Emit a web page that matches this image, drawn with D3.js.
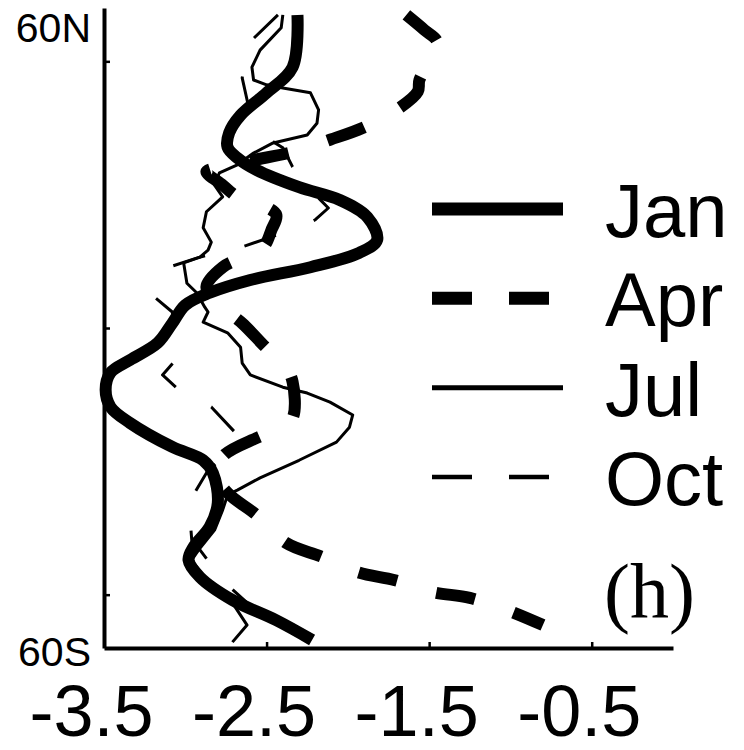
<!DOCTYPE html>
<html>
<head>
<meta charset="utf-8">
<script src="https://cdn.jsdelivr.net/npm/d3@7"></script>
<style>
  html, body { margin: 0; padding: 0; background: #fff; }
  svg { display: block; }
</style>
</head>
<body>
<svg id="chart" width="744" height="750"></svg>
<script>
// Zonal profiles: [value, latitude] pairs, latitude in degrees (N positive)
const jan = [
  [-2.31, 58.7], [-2.34, 48.9], [-2.50, 44.1], [-2.66, 39.9], [-2.73, 36.6],
  [-2.74, 33.9], [-2.68, 31.9], [-2.56, 29.6], [-2.30, 26.4], [-2.05, 24.0],
  [-1.88, 20.8], [-1.82, 16.5], [-1.93, 14.1], [-2.23, 11.4], [-2.60, 9.0],
  [-2.85, 6.6], [-3.00, 4.3], [-3.08, 0.9], [-3.17, -2.8], [-3.34, -6.0],
  [-3.46, -8.4], [-3.49, -11.6], [-3.46, -14.8], [-3.34, -17.8], [-3.08, -22.3],
  [-2.89, -24.8], [-2.83, -27.2], [-2.80, -32.8], [-2.85, -37.3], [-2.95, -41.1],
  [-2.98, -43.5], [-2.91, -46.7], [-2.71, -51.0], [-2.44, -54.8], [-2.22, -58.5]
];
const apr = [
  [-1.64, 58.7], [-1.53, 55.9], [-1.45, 53.6], [-1.50, 49.9], [-1.56, 46.5],
  [-1.57, 44.3], [-1.70, 40.9], [-1.91, 37.5], [-2.11, 35.3], [-2.34, 33.0],
  [-2.58, 31.5], [-2.82, 30.0], [-2.87, 29.3], [-2.77, 26.8], [-2.68, 24.6],
  [-2.53, 23.1], [-2.44, 21.2], [-2.47, 18.4], [-2.52, 15.2], [-2.66, 13.1],
  [-2.77, 11.4], [-2.87, 7.7], [-2.79, 4.3], [-2.65, 0.9], [-2.50, -3.8],
  [-2.39, -6.9], [-2.34, -10.1], [-2.34, -16.9], [-2.42, -18.8], [-2.56, -20.6],
  [-2.76, -23.8], [-2.82, -27.0], [-2.74, -30.9], [-2.56, -35.1], [-2.38, -40.3],
  [-2.16, -42.9], [-1.94, -45.8], [-1.71, -47.3], [-1.48, -49.5], [-1.25, -50.6],
  [-1.02, -52.9], [-0.80, -55.7]
];
const jul = [
  [-2.40, 58.7], [-2.41, 56.3], [-2.54, 52.1], [-2.59, 48.9], [-2.58, 46.5],
  [-2.50, 45.6], [-2.40, 45.0], [-2.23, 44.1], [-2.18, 40.9], [-2.19, 38.4],
  [-2.25, 36.2], [-2.46, 34.7], [-2.58, 32.8], [-2.68, 30.6], [-2.79, 29.1],
  [-2.82, 26.8], [-2.77, 24.6], [-2.87, 21.8], [-2.89, 18.8], [-2.84, 16.1],
  [-2.86, 14.6], [-2.91, 13.3], [-3.01, 12.2], [-2.99, 8.4], [-2.93, 6.6],
  [-2.88, 3.9], [-2.86, 3.0], [-2.89, 1.1], [-2.74, -0.9], [-2.66, -3.6],
  [-2.65, -6.6], [-2.60, -8.8], [-2.40, -11.1], [-2.25, -12.2], [-2.11, -13.9],
  [-1.97, -16.3], [-1.99, -18.6], [-2.07, -21.4], [-2.30, -24.8], [-2.54, -28.1],
  [-2.68, -30.4], [-2.74, -31.3], [-2.77, -34.1], [-2.82, -37.9], [-2.91, -41.3],
  [-2.96, -43.5], [-2.88, -46.9], [-2.73, -50.6], [-2.62, -55.7], [-2.71, -58.9]
];
const oct = [
  [-2.43, 58.7], [-2.59, 54.0], [-2.63, 49.9], [-2.65, 46.9], [-2.61, 41.4],
  [-2.54, 38.1], [-2.48, 35.3], [-2.40, 33.8], [-2.34, 30.2], [-2.23, 25.9],
  [-2.12, 22.5], [-2.20, 20.3], [-2.30, 18.8], [-2.44, 17.4], [-2.65, 15.2],
  [-2.79, 14.3], [-2.93, 13.1], [-3.11, 11.3], [-3.16, 8.6], [-3.19, 5.8],
  [-3.08, 3.0], [-3.06, -1.3], [-3.06, -6.0], [-3.14, -8.8], [-3.05, -11.3],
  [-2.94, -13.1], [-2.84, -14.8], [-2.69, -19.7], [-2.73, -22.9], [-2.87, -27.2],
  [-2.95, -31.3], [-2.97, -36.0], [-2.96, -39.8], [-2.91, -41.6], [-2.83, -44.8],
  [-2.74, -48.2], [-2.57, -52.9], [-2.48, -55.7]
];

const xTicks = [-3.5, -2.5, -1.5, -0.5];
const yTicks = [-50, 0, 50];
const latLabels = [[60, "60N"], [-60, "60S"]];
const months = ["Jan", "Apr", "Jul", "Oct"];
const panelLabel = "(h)";

const svg = d3.select("#chart");

const x = d3.scaleLinear().domain([-3.5, 0]).range([104, 673]);
const y = d3.scaleLinear().domain([-60, 60]).range([648, 8]);

// Line styles per month. Dashed lines start with a dash at the first vertex and
// fit a whole number of dash periods up to the anchor vertex.
const styles = {
  Jan: { data: jan, width: 12, dash: null, curve: d3.curveCatmullRom.alpha(0.5), legendWidth: 13 },
  Apr: { data: apr, width: 12, dash: 0.49, anchor: 36, periods: 12, curve: d3.curveCatmullRom.alpha(0.5), legendWidth: 13 },
  Jul: { data: jul, width: 3, dash: null, curve: d3.curveLinear, legendWidth: 5 },
  Oct: { data: oct, width: 3, dash: 0.45, anchor: 26, periods: 8, curve: d3.curveLinear, legendWidth: 4.5 }
};

// Arc length along a path to the sample nearest a given point
function lengthAt(node, px, py) {
  const total = node.getTotalLength();
  let best = 0, bestD = Infinity;
  for (let s = 0; s <= total; s += 0.5) {
    const p = node.getPointAtLength(s);
    const d = (p.x - px) ** 2 + (p.y - py) ** 2;
    if (d < bestD) { bestD = d; best = s; }
  }
  return best;
}

// Profiles (thin ones first so the thick ones sit on top)
["Oct", "Jul", "Apr", "Jan"].forEach(m => {
  const s = styles[m];
  const line = d3.line().x(d => x(d[0])).y(d => y(d[1])).curve(s.curve);
  const path = svg.append("path")
    .datum(s.data)
    .attr("d", line)
    .attr("fill", "none")
    .attr("stroke", "#000")
    .attr("stroke-width", s.width)
    .attr("stroke-linejoin", "round")
    .attr("stroke-linecap", "butt");
  if (s.dash) {
    const a = s.data[s.anchor];
    const L = lengthAt(path.node(), x(a[0]), y(a[1]));
    const period = L / s.periods;
    path.attr("stroke-dasharray", `${period * s.dash},${period * (1 - s.dash)}`);
  }
});

// Bottom axis
const xAxis = d3.axisBottom(x)
  .tickValues(xTicks)
  .tickSizeInner(-6)
  .tickSizeOuter(0)
  .tickPadding(37)
  .tickFormat(d => d.toFixed(1));

const gx = svg.append("g").attr("transform", `translate(0,${y(-60)})`).call(xAxis);
gx.select(".domain").attr("stroke-width", 4).attr("stroke", "#000");
gx.selectAll(".tick line").attr("stroke-width", 2.5).attr("stroke", "#000");
gx.selectAll(".tick text")
  .attr("font-family", "'Liberation Sans', Arial, sans-serif")
  .attr("font-size", 72)
  .attr("fill", "#000")
  .attr("dx", -13);

// Left axis
const yAxis = d3.axisLeft(y)
  .tickValues(yTicks)
  .tickSizeInner(-6)
  .tickSizeOuter(0)
  .tickFormat("");

const gy = svg.append("g").attr("transform", `translate(${x(-3.5)},0)`).call(yAxis);
gy.select(".domain").attr("stroke-width", 4).attr("stroke", "#000");
gy.selectAll(".tick line").attr("stroke-width", 2.5).attr("stroke", "#000");

svg.selectAll(".lat-label")
  .data(latLabels)
  .join("text")
  .attr("class", "lat-label")
  .attr("x", 91)
  .attr("y", d => d[0] > 0 ? y(d[0]) + 34 : y(d[0]) + 18)
  .attr("text-anchor", "end")
  .attr("font-family", "'Liberation Sans', Arial, sans-serif")
  .attr("font-size", 41)
  .attr("fill", "#000")
  .text(d => d[1]);

// Legend
const legendY = d3.scalePoint().domain(months).range([209, 477]);
const legend = svg.append("g");
months.forEach(m => {
  const s = styles[m];
  const ly = legendY(m);
  legend.append("line")
    .attr("x1", 432)
    .attr("x2", s.dash ? 549 : 563)
    .attr("y1", ly).attr("y2", ly)
    .attr("stroke", "#000")
    .attr("stroke-width", s.legendWidth)
    .attr("stroke-dasharray", s.dash ? "40,37" : null);
  legend.append("text")
    .attr("x", 605)
    .attr("y", ly + 28)
    .attr("font-family", "'Liberation Sans', Arial, sans-serif")
    .attr("font-size", 76)
    .attr("fill", "#000")
    .text(m);
});

svg.append("text")
  .attr("x", 604)
  .attr("y", 618)
  .attr("font-family", "'Liberation Serif', 'Times New Roman', serif")
  .attr("font-size", 78)
  .attr("fill", "#000")
  .text(panelLabel);
</script>
</body>
</html>
